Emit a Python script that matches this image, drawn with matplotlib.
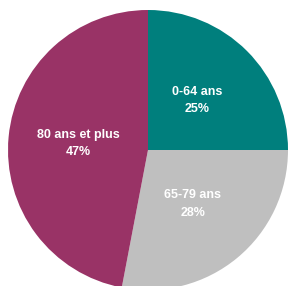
import matplotlib.pyplot as plt

# Répartition par âge
categories = ['0-64 ans', '65-79 ans', '80 ans et plus']
parts = [25, 28, 47]
couleurs = ['#007F7D', '#BFBFBF', '#993366']

plt.rcParams['font.family'] = ['Liberation Sans Narrow', 'Liberation Sans', 'DejaVu Sans']

fig = plt.figure(figsize=(2.88, 2.86), dpi=100)
ax = fig.add_axes([8 / 288, (136 - 140) / 286, 280 / 288, 280 / 286])

textes = [f'{c}\n{p}%' for c, p in zip(categories, parts)]
wedges, labels = ax.pie(parts, labels=textes, colors=couleurs, startangle=90,
                        counterclock=False, labeldistance=0.5, radius=1)
for t in labels:
    t.set_ha('center')
    t.set_va('center')
    t.set_color('white')
    t.set_fontweight('bold')
    t.set_fontsize(9)
    t.set_linespacing(1.6)

ax.set_xlim(-1, 1)
ax.set_ylim(-1, 1)
ax.set_aspect('equal')
ax.axis('off')

fig.savefig('out.png', dpi=100)
